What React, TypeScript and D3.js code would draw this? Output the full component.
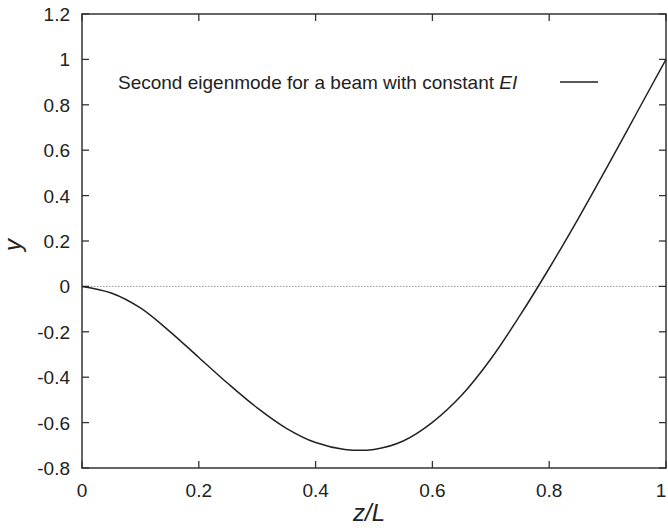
import React from 'react';
import * as d3 from 'd3';

const zValues = [0, 0.05, 0.1, 0.15, 0.2, 0.25, 0.3, 0.35, 0.4, 0.45, 0.5, 0.55, 0.6, 0.65, 0.7, 0.75, 0.8, 0.85, 0.9, 0.95, 1];
const yValues = [0, -0.029, -0.095, -0.198, -0.313, -0.428, -0.535, -0.625, -0.688, -0.718, -0.718, -0.681, -0.599, -0.48, -0.32, -0.128, 0.08, 0.3, 0.53, 0.765, 1];

const xTicks = [0, 0.2, 0.4, 0.6, 0.8, 1];
const yTicks = [-0.8, -0.6, -0.4, -0.2, 0, 0.2, 0.4, 0.6, 0.8, 1, 1.2];

const legendLabel = 'Second eigenmode for a beam with constant ';

const W = 668;
const H = 528;
const margin = { left: 82, right: 2, top: 14, bottom: 60 };
const font = '"Liberation Sans", Arial, Helvetica, sans-serif';

const App: React.FC = () => {
  const x = d3.scaleLinear().domain([0, 1]).range([margin.left, W - margin.right]);
  const y = d3.scaleLinear().domain([-0.8, 1.2]).range([H - margin.bottom, margin.top]);

  const data = zValues.map((z, i) => ({ z, v: yValues[i] }));
  const line = d3
    .line<{ z: number; v: number }>()
    .x((d) => x(d.z))
    .y((d) => y(d.v))
    .curve(d3.curveCatmullRom);

  const fmt = (v: number) => String(+v.toFixed(1));
  const tickLen = 7;
  const [x0, x1] = x.range();
  const [yb, yt] = y.range();

  return (
    <svg width={W} height={H} style={{ position: 'absolute', left: 0, top: 0, background: '#fff' }} fontFamily={font}>
      {/* zero line */}
      <line x1={x0} x2={x1} y1={y(0)} y2={y(0)} stroke="#999" strokeWidth={1} strokeDasharray="1.5,1.5" />

      {/* ticks, mirrored */}
      {xTicks.map((t) => (
        <g key={'x' + t}>
          <line x1={x(t)} x2={x(t)} y1={yb} y2={yb - tickLen} stroke="#333" strokeWidth={1.3} />
          <line x1={x(t)} x2={x(t)} y1={yt} y2={yt + tickLen} stroke="#333" strokeWidth={1.3} />
          <text x={Math.min(x(t), 661)} y={497} textAnchor="middle" fontSize={19} fill="#222">
            {fmt(t)}
          </text>
        </g>
      ))}
      {yTicks.map((t) => (
        <g key={'y' + t}>
          <line x1={x0} x2={x0 + tickLen} y1={y(t)} y2={y(t)} stroke="#333" strokeWidth={1.3} />
          <line x1={x1} x2={x1 - tickLen} y1={y(t)} y2={y(t)} stroke="#333" strokeWidth={1.3} />
          <text x={70} y={y(t) + 7} textAnchor="end" fontSize={19} fill="#222">
            {fmt(t)}
          </text>
        </g>
      ))}

      {/* frame */}
      <rect x={x0} y={yt} width={x1 - x0} height={yb - yt} fill="none" stroke="#333" strokeWidth={1.5} />

      {/* curve */}
      <path d={line(data) || ''} fill="none" stroke="#222" strokeWidth={1.5} />

      {/* legend */}
      <text x={118} y={89} fontSize={19} fill="#222">
        {legendLabel}
        <tspan fontStyle="italic">EI</tspan>
      </text>
      <line x1={560} x2={598} y1={82} y2={82} stroke="#222" strokeWidth={1.5} />

      {/* axis titles */}
      <text x={369} y={521} textAnchor="middle" fontSize={24} fontStyle="italic" fill="#222">
        z/L
      </text>
      <text transform="translate(21,245) rotate(-90)" textAnchor="middle" fontSize={24} fontStyle="italic" fill="#222">
        y
      </text>
    </svg>
  );
};

export default App;
